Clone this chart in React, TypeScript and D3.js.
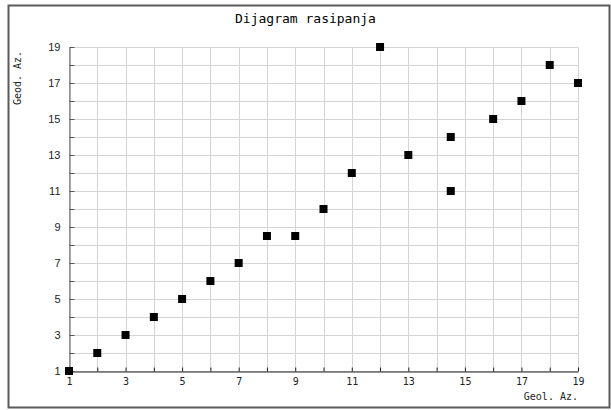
import React, { useEffect, useRef } from 'react';
import * as d3 from 'd3';

const xValues = [1, 2, 3, 4, 5, 6, 7, 8, 9, 10, 11, 12, 13, 14.5, 14.5, 16, 17, 18, 19];
const yValues = [1, 2, 3, 4, 5, 6, 7, 8.5, 8.5, 10, 12, 19, 13, 14, 11, 15, 16, 18, 17];
const tickLabels = [1, 3, 5, 7, 9, 11, 13, 15, 17, 19];
const gridSteps = d3.range(1, 20);

const title = 'Dijagram rasipanja';
const xTitle = 'Geol. Az.';
const yTitle = 'Geod. Az.';

const App = () => {
    const ref = useRef<SVGSVGElement>(null);

    useEffect(() => {
        const width = 611;
        const height = 410;
        const margin = { top: 47, right: 33, bottom: 39, left: 69 };
        const mono = '"DejaVu Sans Mono", monospace';

        const svg = d3.select(ref.current);
        svg.selectAll('*').remove();

        const x = d3.scaleLinear()
            .domain([1, 19])
            .range([margin.left, width - margin.right]);

        const y = d3.scaleLinear()
            .domain([1, 19])
            .range([height - margin.bottom, margin.top]);

        svg.append('rect')
            .attr('x', 8.5).attr('y', 5.5)
            .attr('width', 601).attr('height', 402)
            .attr('fill', '#fff')
            .attr('stroke', '#5a5a5a')
            .attr('stroke-width', 2);

        // grid
        const grid = svg.append('g').attr('stroke', '#d4d4d4').attr('stroke-width', 1);
        grid.selectAll('.vx').data(gridSteps).join('line')
            .attr('x1', d => Math.round(x(d)) + 0.5).attr('x2', d => Math.round(x(d)) + 0.5)
            .attr('y1', y(19)).attr('y2', y(1));
        grid.selectAll('.hy').data(gridSteps).join('line')
            .attr('x1', x(1)).attr('x2', x(19))
            .attr('y1', d => Math.round(y(d)) + 0.5).attr('y2', d => Math.round(y(d)) + 0.5);

        // axes
        const xAxis = d3.axisBottom(x).tickValues(gridSteps).tickSize(-4).tickSizeOuter(0)
            .tickFormat(d => tickLabels.includes(d as number) ? String(d) : '');
        const gx = svg.append('g')
            .attr('transform', `translate(0,${Math.round(y(1)) + 0.5})`)
            .call(xAxis);
        gx.select('.domain').attr('stroke', '#222');
        gx.selectAll('.tick line').attr('stroke', '#222');
        gx.selectAll('.tick text')
            .attr('font-family', mono).attr('font-size', 10).attr('fill', '#222')
            .attr('dy', '0.71em').attr('y', 6);

        const yAxis = d3.axisLeft(y).tickValues(gridSteps).tickSize(-5).tickSizeOuter(0)
            .tickFormat(d => tickLabels.includes(d as number) ? String(d) : '');
        const gy = svg.append('g')
            .attr('transform', `translate(${Math.round(x(1)) + 0.5},0)`)
            .call(yAxis);
        gy.select('.domain').attr('stroke', '#555');
        gy.selectAll('.tick line').attr('stroke', '#555');
        gy.selectAll('.tick text')
            .attr('font-family', 'Arial, "Liberation Sans", sans-serif').attr('font-size', 11)
            .attr('fill', '#222').attr('x', -9);

        // points
        svg.append('g').selectAll('rect').data(xValues.map((v, i) => [v, yValues[i]]))
            .join('rect')
            .attr('x', d => x(d[0]) - 4)
            .attr('y', d => y(d[1]) - 4)
            .attr('width', 8).attr('height', 8)
            .attr('fill', '#000');

        svg.append('text')
            .attr('x', width / 2).attr('y', 23)
            .attr('text-anchor', 'middle')
            .attr('font-family', mono).attr('font-size', 13)
            .attr('fill', '#000')
            .text(title);

        svg.append('text')
            .attr('x', x(19)).attr('y', 400)
            .attr('text-anchor', 'end')
            .attr('font-family', mono).attr('font-size', 10).attr('fill', '#222')
            .text(xTitle);

        svg.append('text')
            .attr('transform', `translate(21,78) rotate(-90)`)
            .attr('text-anchor', 'middle')
            .attr('font-family', mono).attr('font-size', 10).attr('fill', '#222')
            .text(yTitle);
    }, []);

    return (
        <svg ref={ref} width={611} height={410}
            style={{ position: 'absolute', left: 0, top: 0 }} />
    );
};

export default App;
